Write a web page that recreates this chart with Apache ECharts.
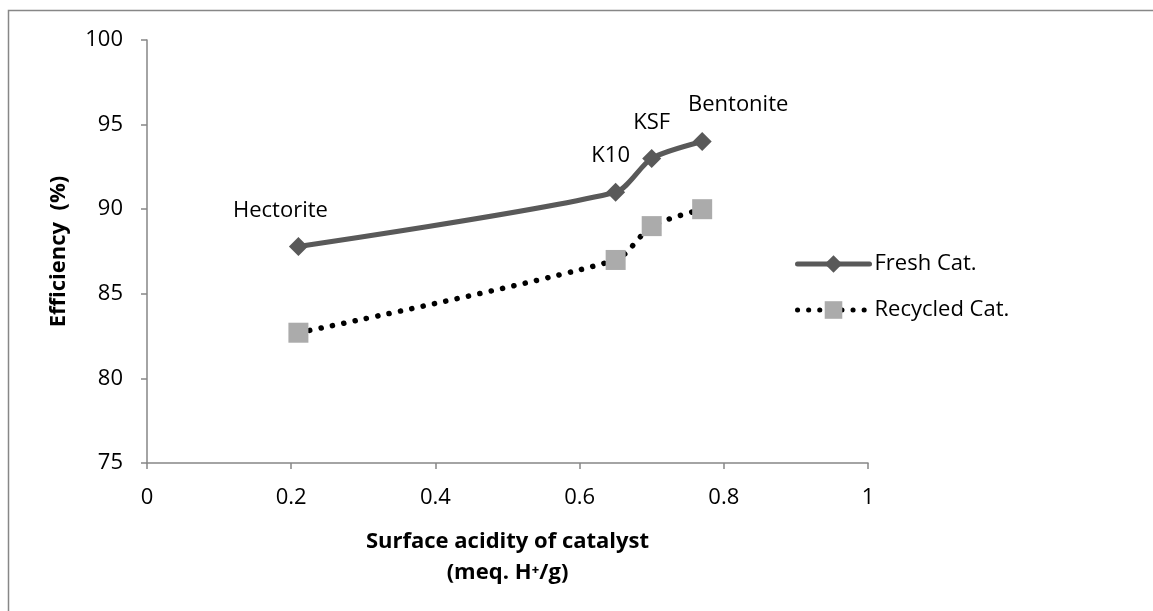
<!DOCTYPE html>
<html>
<head>
<meta charset="utf-8">
<script src="https://cdn.jsdelivr.net/npm/echarts@6/dist/echarts.min.js"></script>
<style>html,body{margin:0;padding:0;background:#fff;}#chart{width:1153px;height:611px;}</style>
</head>
<body>
<div id="chart"></div>
<script>
const catalysts = ['Hectorite', 'K10', 'KSF', 'Bentonite'];
const acidity = [0.21, 0.65, 0.70, 0.77];
const freshEff = [87.8, 91, 93, 94];
const recycledEff = [82.7, 87, 89, 90];
const xTicks = [0, 0.2, 0.4, 0.6, 0.8, 1];
const yTicks = [75, 80, 85, 90, 95, 100];
const seriesNames = ['Fresh Cat.', 'Recycled Cat.'];

const FONT = 'Open Sans';
const labelOffsets = [[-18, -10], [-5, -11], [0, -10], [36, -11]];

const chart = echarts.init(document.getElementById('chart'), null, {renderer: 'canvas'});

const freshData = acidity.map((x, i) => ({
  value: [x, freshEff[i]],
  label: {show: true, formatter: catalysts[i], position: 'top', offset: labelOffsets[i]}
}));
const recycledData = acidity.map((x, i) => [x, recycledEff[i]]);

const axisLineStyle = {color: '#868686', width: 1.5};

chart.setOption({
  animation: false,
  backgroundColor: '#ffffff',
  textStyle: {fontFamily: FONT},
  graphic: [{
    type: 'rect',
    shape: {x: 8.5, y: 10.5, width: 1200, height: 700},
    style: {fill: 'none', stroke: '#878787', lineWidth: 1.5},
    silent: true
  }],
  grid: {left: 147, top: 40, right: 285, bottom: 148, containLabel: false},
  legend: {
    orient: 'vertical',
    left: 795,
    top: 253,
    padding: 0,
    itemWidth: 72,
    itemHeight: 22,
    itemGap: 24,
    textStyle: {fontFamily: FONT, fontSize: 22, color: '#000'},
    data: [
      {name: seriesNames[0], lineStyle: {width: 5, color: '#595959'}},
      {name: seriesNames[1], lineStyle: {width: 5, color: '#000', type: [0.1, 11], cap: 'round'}}
    ]
  },
  xAxis: {
    type: 'value',
    min: xTicks[0],
    max: xTicks[xTicks.length - 1],
    interval: 0.2,
    name: 'Surface acidity of catalyst\n(meq. H\u207A/g)',
    nameLocation: 'middle',
    nameGap: 63,
    nameTextStyle: {fontFamily: FONT, fontSize: 22, fontWeight: 'bold', color: '#000', lineHeight: 31},
    axisLine: {show: true, lineStyle: axisLineStyle},
    axisTick: {show: true, inside: false, length: 6, lineStyle: axisLineStyle},
    axisLabel: {fontFamily: FONT, fontSize: 22, color: '#000', margin: 24,
      formatter: v => String(Math.round(v * 10) / 10)},
    splitLine: {show: false}
  },
  yAxis: {
    type: 'value',
    min: yTicks[0],
    max: yTicks[yTicks.length - 1],
    interval: 5,
    name: 'Efficiency  (%)',
    nameLocation: 'middle',
    nameGap: 77,
    nameTextStyle: {fontFamily: FONT, fontSize: 22, fontWeight: 'bold', color: '#000'},
    axisLine: {show: true, lineStyle: axisLineStyle},
    axisTick: {show: true, inside: false, length: 6, lineStyle: axisLineStyle},
    axisLabel: {fontFamily: FONT, fontSize: 22, color: '#000', margin: 24},
    splitLine: {show: false}
  },
  series: [
    {
      name: seriesNames[0],
      type: 'line',
      data: freshData,
      smooth: 0.25,
      symbol: 'diamond',
      symbolSize: 19,
      itemStyle: {color: '#595959'},
      lineStyle: {color: '#595959', width: 5, cap: 'round'},
      label: {fontFamily: FONT, fontSize: 22, color: '#000'},
      z: 3
    },
    {
      name: seriesNames[1],
      type: 'line',
      data: recycledData,
      smooth: 0.25,
      symbol: 'rect',
      symbolSize: 20,
      itemStyle: {color: '#ababab'},
      lineStyle: {color: '#000000', width: 5.5, type: [0.1, 11.5], cap: 'round'},
      z: 2
    }
  ]
});
</script>
</body>
</html>
